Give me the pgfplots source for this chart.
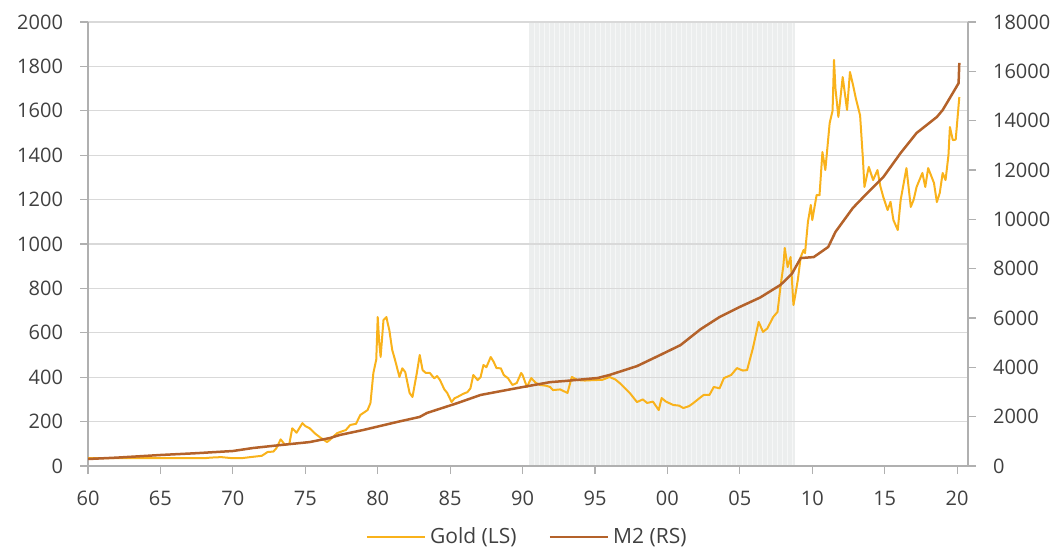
\documentclass[border=0pt]{standalone}
\usepackage{pgfplots}
\pgfplotsset{compat=1.18}
\usepackage{fontspec}
\setmainfont{Open Sans}
\definecolor{goldc}{HTML}{F9B21B}
\definecolor{m2c}{HTML}{B4622A}
\definecolor{shadec}{HTML}{ECEEEE}
\definecolor{gridc}{HTML}{D9D9D9}
\definecolor{axc}{HTML}{B0B0B0}
\definecolor{txt}{HTML}{404040}
\pgfplotsset{
  every axis/.append style={
    font=\fontsize{10}{12}\selectfont\color{txt},
    /pgf/number format/assume math mode=true,
    /pgf/number format/1000 sep={},
  },
}
\begin{document}
\begin{tikzpicture}
\begin{axis}[
  name=ax,
  set layers,
  scale only axis, width=440pt, height=222pt,
  xmin=1960, xmax=2020.75, ymin=0, ymax=2000,
  axis x line*=bottom, axis y line*=left,
  axis line style={axc, line width=0.6pt},
  xtick={1960,1965,...,2020},
  xticklabels={60,65,70,75,80,85,90,95,00,05,10,15,20},
  ytick={0,200,...,2000},
  tick align=outside, major tick length=4pt,
  tick style={axc, line width=0.6pt},
  ymajorgrids, grid style={gridc, line width=0.6pt},
  xticklabel style={yshift=-5pt},
  yticklabel style={xshift=-5pt},
  legend style={at={(0.5,-0.16)}, anchor=center, draw=none, legend columns=2,
    /tikz/every even column/.append style={column sep=14pt},
    font=\fontsize{10.5}{12}\selectfont\color{txt}},
  legend image code/.code={\draw[#1, line width=1.3pt] (0pt,0pt) -- (29pt,0pt);},
  legend cell align=left,
]
\begin{pgfonlayer}{axis background}
\fill[shadec] (axis cs:1990.45,0) rectangle (axis cs:2008.8,2000);
\pgfplotsforeachungrouped \xx in {1990.8,1991.15,...,2008.6}{%
  \edef\temp{\noexpand\draw[white, opacity=0.55, line width=0.5pt] (axis cs:\xx,0) -- (axis cs:\xx,2000);}\temp}
\end{pgfonlayer}
\addplot[goldc, line width=1pt, line join=round] coordinates {
(1960.0,35) (1961.0,35.5) (1962.0,35) (1963.0,35) (1964.0,35) (1965.0,35) (1966.0,35) (1967.0,35) (1968.0,35) (1968.5,38) (1969.2,40) (1970.0,35) (1970.7,36)
(1971.2,40) (1972.0,46) (1972.4,63) (1972.8,65) (1973.0,80) (1973.3,120) (1973.6,95) (1973.9,100)
(1974.1,170) (1974.4,150) (1974.8,193) (1975.0,180) (1975.3,170) (1975.7,145) (1976.0,130)
(1976.5,108) (1976.7,118) (1977.2,148) (1977.4,153) (1977.8,162) (1978.1,185) (1978.5,190)
(1978.8,230) (1979.3,252) (1979.5,284) (1979.7,419) (1979.9,480) (1980.0,671) (1980.1,560)
(1980.2,491) (1980.4,658) (1980.6,671) (1980.7,640) (1980.8,613) (1981.0,523) (1981.2,477)
(1981.5,401) (1981.7,440) (1981.9,423) (1982.2,329) (1982.4,311) (1982.7,419) (1982.9,500)
(1983.1,432) (1983.3,420) (1983.6,419) (1983.9,395) (1984.1,405) (1984.3,387) (1984.6,345) (1984.8,329)
(1985.1,288) (1985.3,305) (1985.5,311) (1985.9,325) (1986.2,333) (1986.4,350) (1986.6,410) (1986.9,387) (1987.1,400)
(1987.3,455) (1987.5,445) (1987.6,460) (1987.8,491) (1988.0,470) (1988.2,441) (1988.5,440) (1988.7,410)
(1989.0,395) (1989.3,365) (1989.6,374) (1989.9,419) (1990.0,410) (1990.3,356) (1990.6,396)
(1990.9,375) (1991.2,365) (1991.6,362) (1991.9,356) (1992.1,342) (1992.6,345) (1993.1,329)
(1993.4,401) (1993.8,387) (1994.3,385) (1994.9,387) (1995.5,388) (1996.0,401) (1996.4,390)
(1996.7,374) (1997.0,355) (1997.4,329) (1997.9,288) (1998.3,300) (1998.6,284) (1999.0,290)
(1999.4,252) (1999.6,306) (1999.9,290) (2000.4,275) (2000.8,272) (2001.1,261) (2001.5,270)
(2001.8,284) (2002.2,305) (2002.5,320) (2002.9,320) (2003.2,356) (2003.6,350) (2003.9,396)
(2004.4,410) (2004.8,441) (2005.2,430) (2005.5,432) (2005.9,531) (2006.3,649) (2006.6,604)
(2006.9,620) (2007.3,671) (2007.6,694) (2007.8,806) (2008.0,900) (2008.1,982) (2008.3,896)
(2008.5,941) (2008.7,725) (2008.8,760) (2009.0,838) (2009.2,941) (2009.4,973) (2009.5,959)
(2009.7,1100) (2009.9,1176) (2010.0,1108) (2010.3,1221) (2010.5,1220) (2010.7,1414) (2010.9,1333)
(2011.2,1545) (2011.4,1600) (2011.5,1829) (2011.6,1700) (2011.8,1572) (2012.1,1752) (2012.4,1604)
(2012.6,1775) (2012.8,1720) (2013.0,1658) (2013.3,1580) (2013.5,1378) (2013.6,1257) (2013.9,1347)
(2014.2,1288) (2014.5,1333) (2014.7,1260) (2014.9,1212) (2015.2,1153) (2015.4,1190) (2015.6,1108)
(2015.9,1063) (2016.1,1198) (2016.5,1342) (2016.8,1167) (2017.0,1200) (2017.2,1257) (2017.6,1320)
(2017.8,1257) (2018.0,1342) (2018.4,1275) (2018.6,1189) (2018.8,1230) (2019.0,1320) (2019.2,1288)
(2019.4,1400) (2019.5,1527) (2019.7,1468) (2019.9,1470) (2020.15,1662)
};
\addlegendentry{Gold (LS)}
\addlegendimage{m2c}
\addlegendentry{M2 (RS)}
\end{axis}
\begin{axis}[
  scale only axis, width=440pt, height=222pt,
  xmin=1960, xmax=2020.75, ymin=0, ymax=18000,
  axis x line=none, axis y line*=right,
  axis line style={axc, line width=0.6pt},
  ytick={0,2000,...,18000},
  scaled y ticks=false,
  tick align=outside, major tick length=4pt,
  tick style={axc, line width=0.6pt},
  yticklabel style={xshift=5pt},
]
\addplot[m2c, line width=1.25pt, line join=round] coordinates {
(1960,284) (1962,340) (1965,446) (1967.5,520) (1970,608) (1971.4,730) (1973.3,850) (1975.3,970)
(1976.7,1135) (1977.4,1260) (1979,1460) (1981.3,1780) (1982.9,1990) (1983.4,2150) (1985.5,2550)
(1987.1,2880) (1988.9,3080) (1990,3200) (1991.9,3400) (1993,3450) (1995.2,3570) (1996,3690)
(1997.9,4050) (1999.5,4500) (2000.9,4900) (2002.3,5550) (2003.6,6040) (2005,6450) (2006.4,6830)
(2007.8,7340) (2008.0,7450) (2008.6,7800) (2009.2,8430) (2010.1,8470) (2011.1,8880) (2011.6,9490)
(2012.8,10460) (2013.8,11070) (2014.9,11710) (2016.1,12690) (2017.2,13500) (2018.6,14150)
(2019.0,14430) (2019.7,15120) (2020.1,15520) (2020.15,16340)
};
\end{axis}
\pgfresetboundingbox
\path ([shift={(-44pt,-43pt)}]ax.south west) rectangle ([shift={(47pt,11pt)}]ax.north east);
\end{tikzpicture}
\end{document}
